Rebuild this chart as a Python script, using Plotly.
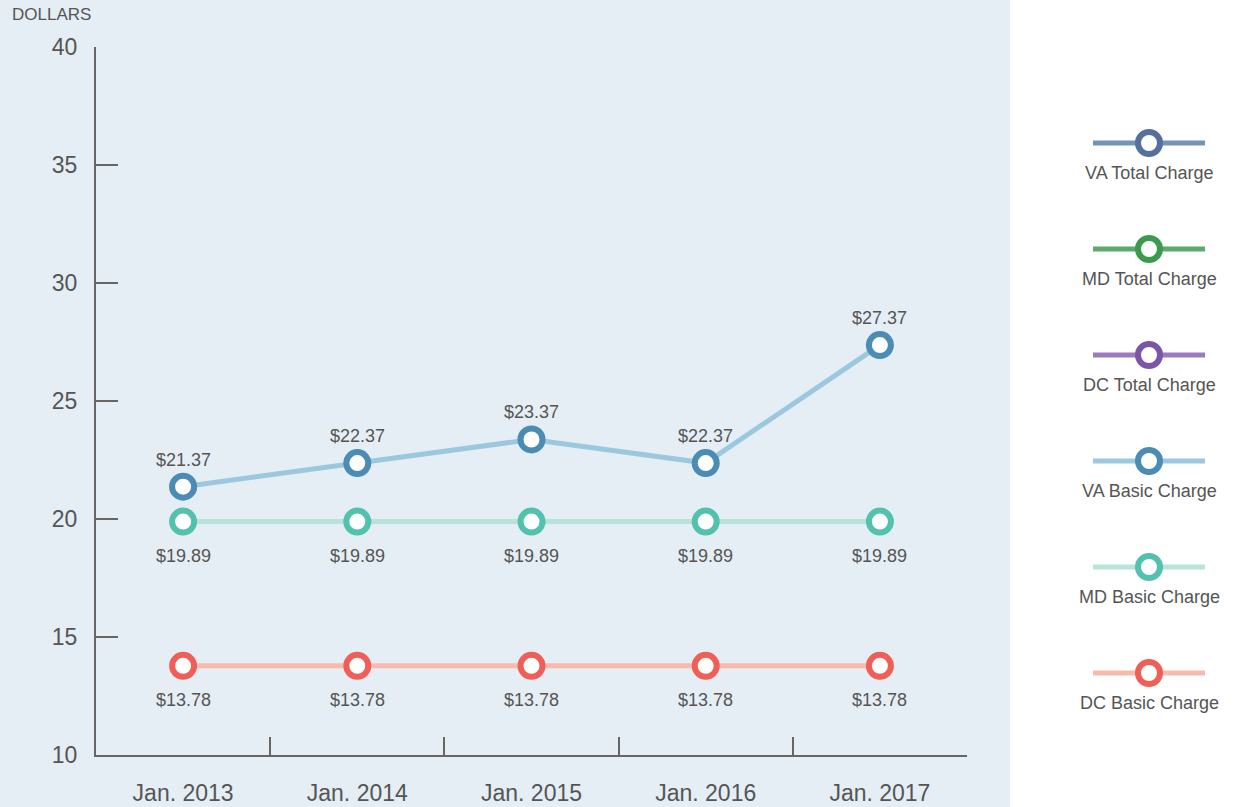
import plotly.graph_objects as go

categories = ["Jan. 2013", "Jan. 2014", "Jan. 2015", "Jan. 2016", "Jan. 2017"]
va_basic = [21.37, 22.37, 23.37, 22.37, 27.37]
md_basic = [19.89, 19.89, 19.89, 19.89, 19.89]
dc_basic = [13.78, 13.78, 13.78, 13.78, 13.78]
y_ticks = [10, 15, 20, 25, 30, 35, 40]

legend_names = ["VA Total Charge", "MD Total Charge", "DC Total Charge",
                "VA Basic Charge", "MD Basic Charge", "DC Basic Charge"]
line_colors = ["#7393B7", "#5BAA6A", "#9B7BC0", "#9CC8DF", "#B8E3D8", "#F9BAAE"]
marker_colors = ["#55709F", "#3C9A4E", "#7D55A8", "#4A8CB4", "#52C1AD", "#EF5F57"]

FONT = "Liberation Sans, Arial, sans-serif"
TXT = "#555555"
AX = "#666666"

W, H = 1236, 807
L, R, T, B = 96, 20, 47, 52
plot_w = W - L - R
main_right = 967

fig = go.Figure()

series = [(va_basic, 3, "above"), (md_basic, 4, "below"), (dc_basic, 5, "below")]
for vals, ci, pos in series:
    fig.add_trace(go.Scatter(
        x=categories, y=vals, mode="lines+markers",
        line=dict(color=line_colors[ci], width=5),
        marker=dict(color="white", size=22, line=dict(color=marker_colors[ci], width=6)),
        showlegend=False, hoverinfo="skip", xaxis="x", yaxis="y"))
    for c, v in zip(categories, vals):
        fig.add_annotation(x=c, y=v, xref="x", yref="y", text=f"${v:.2f}",
                           showarrow=False, yshift=27 if pos == "above" else -34,
                           font=dict(family=FONT, size=18, color=TXT))

# custom legend drawn in a second subplot
for i, name in enumerate(legend_names):
    yv = 755 - (143 + 106 * i)
    fig.add_trace(go.Scatter(
        x=[0, 1, 2], y=[yv, yv, yv], mode="lines",
        line=dict(color=line_colors[i], width=5),
        showlegend=False, hoverinfo="skip", xaxis="x2", yaxis="y2"))
    fig.add_trace(go.Scatter(
        x=[1], y=[yv], mode="markers",
        marker=dict(color="white", size=22, line=dict(color=marker_colors[i], width=6)),
        showlegend=False, hoverinfo="skip", xaxis="x2", yaxis="y2"))
    fig.add_annotation(x=1, y=yv, xref="x2", yref="y2", text=name, showarrow=False,
                       yshift=-30, font=dict(family=FONT, size=18, color=TXT))

fig.add_annotation(x=(10 - L) / plot_w, y=(H - B - 15) / (H - T - B), xref="paper", yref="paper",
                   text="DOLLARS", showarrow=False, xanchor="left", yanchor="middle",
                   font=dict(family=FONT, size=17, color=TXT))

fig.update_layout(
    width=W, height=H,
    margin=dict(l=L, r=R, t=T, b=B, autoexpand=False),
    paper_bgcolor="white",
    plot_bgcolor="rgba(0,0,0,0)",
    shapes=[dict(type="rect", xref="paper", yref="paper",
                 x0=-0.2, x1=(1010 - L) / plot_w, y0=-0.2, y1=1.2,
                 fillcolor="#E5EEF4", line=dict(width=0), layer="below")],
    xaxis=dict(domain=[0, (main_right - L) / plot_w], type="category",
               categoryorder="array", categoryarray=categories,
               range=[-0.5, 4.5], tickson="boundaries", ticks="inside", ticklen=18,
               tickwidth=2, tickcolor=AX, showline=True, linewidth=2, linecolor=AX,
               showgrid=False, zeroline=False, ticklabelstandoff=16, automargin=False,
               tickfont=dict(family=FONT, size=23, color=TXT), fixedrange=True),
    yaxis=dict(range=[10, 40], tickvals=y_ticks, ticks="inside", ticklen=22,
               tickwidth=2, tickcolor=AX, showline=True, linewidth=2, linecolor=AX,
               showgrid=False, zeroline=False, ticklabelstandoff=12, automargin=False,
               tickfont=dict(family=FONT, size=23, color=TXT), fixedrange=True),
    xaxis2=dict(domain=[(1093 - L) / plot_w, (1205 - L) / plot_w], range=[0, 2],
                visible=False, fixedrange=True, automargin=False),
    yaxis2=dict(anchor="x2", range=[0, 708], visible=False, fixedrange=True, automargin=False),
)

fig.write_html("out.html", config={"displayModeBar": False},
               post_script="document.body.style.margin='0';document.body.style.overflow='hidden';")
